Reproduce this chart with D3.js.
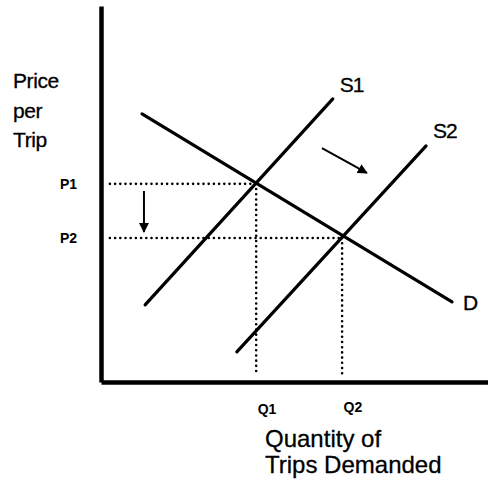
<!DOCTYPE html>
<html>
<head>
<meta charset="utf-8">
<script src="https://cdn.jsdelivr.net/npm/d3@7"></script>
<style>
  body { margin: 0; background: #fff; }
  text { font-family: "Liberation Sans", Arial, sans-serif; fill: #000; }
</style>
</head>
<body>
<svg id="chart" width="488" height="481"></svg>
<script>
// supply / demand lines, in (quantity, price) units
const demand = [[1.06, 7.13], [9.07, 2.13]];
const supply1 = [[1.14, 2.05], [5.99, 7.53]];
const supply2 = [[3.51, 0.80], [8.40, 6.28]];
const curveNames = ["D", "S1", "S2"];

// equilibrium points before and after the shift
const eqQty = [4.01, 6.23];
const eqPrice = [5.27, 3.83];
const priceLabels = ["P1", "P2"];
const qtyLabels = ["Q1", "Q2"];

// shift arrows
const priceArrow = [[1.11, 5.08], [1.11, 3.99]];
const shiftArrow = [[5.71, 6.22], [6.87, 5.56]];

const yTitle = ["Price", "per", "Trip"];
const xTitle = ["Quantity of", "Trips Demanded"];

const svg = d3.select("#chart");

let scX = d3.scaleLinear().domain([0, 10]).range([101, 488]);
let scY = d3.scaleLinear().domain([0, 10]).range([382, 6]);

svg.append("defs").append("marker")
    .attr("id", "head").attr("viewBox", "0 0 10 10")
    .attr("refX", 9).attr("refY", 5)
    .attr("markerWidth", 5).attr("markerHeight", 5)
    .attr("orient", "auto")
    .append("path").attr("d", "M0,0L10,5L0,10z").attr("fill", "#000");

// dotted guides from the axes to each equilibrium
let guides = svg.append("g").attr("stroke", "#000")
    .attr("stroke-width", 2.6).attr("stroke-linecap", "round")
    .attr("stroke-dasharray", "0,5.2").attr("fill", "none");
eqQty.forEach((q, i) => {
    guides.append("line")
        .attr("x1", scX(0.23)).attr("x2", scX(q))
        .attr("y1", scY(eqPrice[i])).attr("y2", scY(eqPrice[i]));
    guides.append("line")
        .attr("x1", scX(q)).attr("x2", scX(q))
        .attr("y1", scY(eqPrice[i])).attr("y2", scY(0.21));
});

// curves
let lineMaker = d3.line().x(d => scX(d[0])).y(d => scY(d[1]));
let curves = [demand, supply1, supply2];
svg.append("g").selectAll("path")
    .data(curves).enter().append("path")
    .attr("fill", "none").attr("stroke", "#000")
    .attr("stroke-width", 3.2).attr("stroke-linecap", "round")
    .attr("d", d => lineMaker(d));

// curve names next to the line ends
let nameOffsets = [[11, 8], [7, -7], [7, -8]];
svg.append("g").selectAll("text")
    .data(curveNames).enter().append("text")
    .attr("x", (d, i) => scX(curves[i][1][0]) + nameOffsets[i][0])
    .attr("y", (d, i) => scY(curves[i][1][1]) + nameOffsets[i][1])
    .attr("font-size", 21).attr("letter-spacing", -1)
    .attr("stroke", "#000").attr("stroke-width", 0.3)
    .text(d => d);

// arrows
[priceArrow, shiftArrow].forEach(a => {
    svg.append("path").attr("d", lineMaker(a))
        .attr("stroke", "#000").attr("stroke-width", 2)
        .attr("fill", "none").attr("marker-end", "url(#head)");
});

// axes
let yAxis = d3.axisLeft(scY).tickValues(eqPrice)
    .tickFormat((d, i) => priceLabels[i])
    .tickSize(0).tickPadding(24);
let gy = svg.append("g").attr("transform", "translate(101,0)").call(yAxis);
gy.selectAll("text").attr("dy", "0.3em");

let xAxis = d3.axisBottom(scX).tickValues(eqQty)
    .tickFormat((d, i) => qtyLabels[i])
    .tickSize(0).tickPadding(22);
let gx = svg.append("g").attr("transform", "translate(0,382)").call(xAxis);
gx.selectAll("text").attr("text-anchor", "start").attr("dx", 1);
gx.selectAll("text").filter((d, i) => i == 1).attr("dy", "0.55em");

[gx, gy].forEach(g => {
    g.select(".domain").attr("stroke", "#000").attr("stroke-width", 4.5);
    g.selectAll("text").attr("font-family", "Liberation Sans, Arial, sans-serif")
        .attr("font-size", 14).attr("font-weight", "bold").attr("fill", "#000");
});

// axis titles
svg.append("g").selectAll("text")
    .data(yTitle).enter().append("text")
    .attr("x", 13).attr("y", (d, i) => 88 + i * 29.5)
    .attr("font-size", 21).attr("letter-spacing", -0.4)
    .attr("stroke", "#000").attr("stroke-width", 0.3)
    .text(d => d);

svg.append("g").selectAll("text")
    .data(xTitle).enter().append("text")
    .attr("x", 265).attr("y", (d, i) => 447 + i * 26)
    .attr("font-size", 24)
    .attr("stroke", "#000").attr("stroke-width", 0.3)
    .text(d => d);
</script>
</body>
</html>
